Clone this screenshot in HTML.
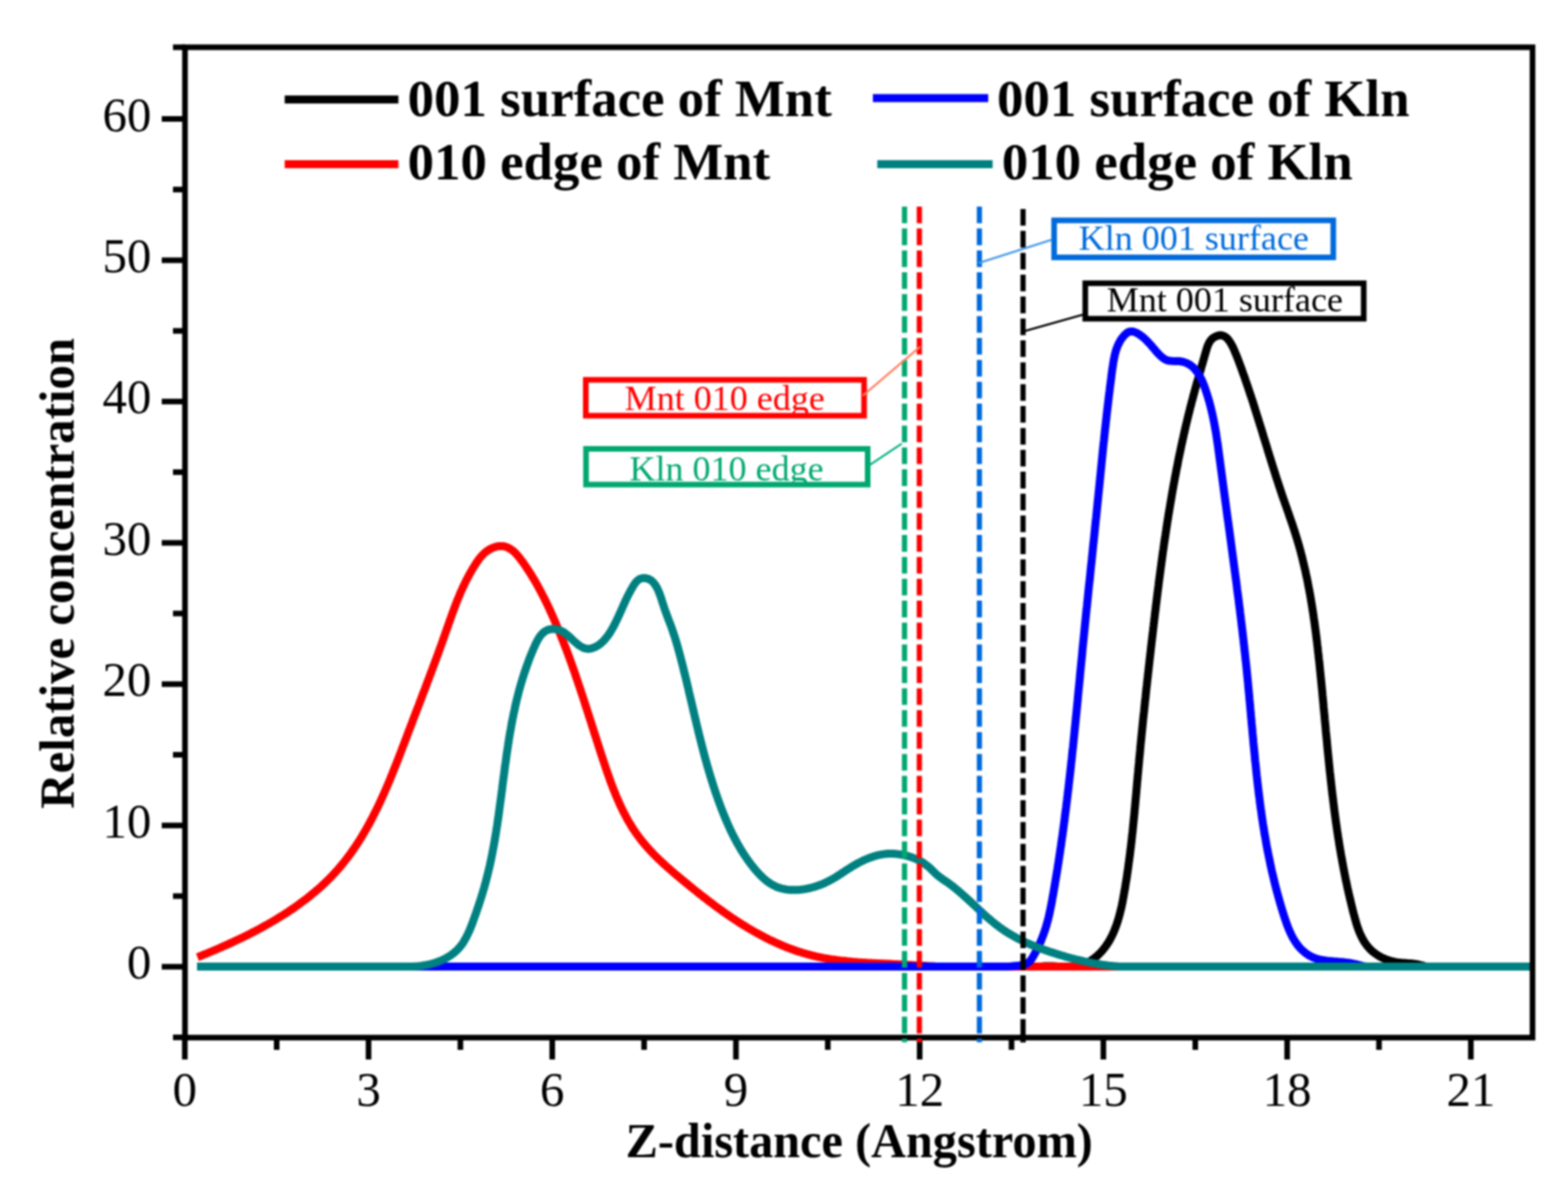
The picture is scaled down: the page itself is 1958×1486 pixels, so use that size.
<!DOCTYPE html>
<html><head><meta charset="utf-8"><title>Relative concentration vs Z-distance</title>
<style>html,body{margin:0;padding:0;background:#fff;overflow:hidden}svg{display:block;filter:blur(0.9px)}</style>
</head><body>
<svg width="1958" height="1486" viewBox="0 0 1958 1486">
<rect width="1958" height="1486" fill="#fff"/>
<g fill="none" stroke-width="10" stroke-linejoin="round" stroke-linecap="butt">
<path stroke="#000000" d="M246.0 1207.0 L1300.0 1207.0 1303.0 1206.6 1306.0 1206.4 1309.0 1206.4 1312.0 1206.4 1315.0 1206.6 1318.0 1206.8 1321.0 1207.0 1324.0 1207.0 1327.0 1207.0 1330.0 1207.0 1333.0 1207.0 1336.0 1207.0 1339.0 1207.0 1342.0 1207.0 1345.0 1207.0 1347.9 1206.4 1350.8 1205.4 1353.6 1204.3 1356.3 1203.1 1359.0 1201.7 1361.6 1200.1 1364.0 1198.4 1366.5 1196.6 1368.8 1194.7 1371.0 1192.7 1373.2 1190.6 1375.3 1188.4 1377.2 1186.2 1379.1 1183.8 1380.9 1181.4 1382.6 1178.9 1384.3 1176.4 1385.8 1173.8 1387.2 1171.2 1388.6 1168.5 1389.9 1165.7 1391.1 1163.0 1392.2 1160.2 1393.3 1157.4 1394.3 1154.6 1395.3 1151.7 1396.2 1148.8 1397.0 1146.0 1397.8 1143.1 1398.6 1140.1 1399.3 1137.2 1400.0 1134.3 1400.7 1131.3 1401.3 1128.4 1401.9 1125.5 1402.4 1122.5 1403.0 1119.5 1403.5 1116.6 1404.0 1113.6 1404.6 1110.6 1405.1 1107.7 1405.5 1104.7 1406.0 1101.7 1406.5 1098.8 1407.0 1095.8 1407.4 1092.8 1407.8 1089.8 1408.3 1086.9 1408.7 1083.9 1409.1 1080.9 1409.5 1077.9 1409.9 1074.9 1410.3 1071.9 1410.7 1069.0 1411.1 1066.0 1411.4 1063.0 1411.8 1060.0 1412.2 1057.0 1412.5 1054.0 1412.9 1051.0 1413.2 1048.0 1413.5 1045.1 1413.8 1042.1 1414.2 1039.1 1414.5 1036.1 1414.8 1033.1 1415.1 1030.1 1415.4 1027.1 1415.7 1024.1 1416.0 1021.1 1416.3 1018.1 1416.6 1015.1 1416.8 1012.1 1417.1 1009.1 1417.4 1006.1 1417.7 1003.1 1417.9 1000.1 1418.2 997.1 1418.5 994.1 1418.8 991.1 1419.0 988.1 1419.3 985.1 1419.6 982.1 1419.8 979.1 1420.1 976.1 1420.4 973.1 1420.6 970.1 1420.9 967.1 1421.2 964.2 1421.4 961.2 1421.7 958.2 1422.0 955.2 1422.3 952.2 1422.5 949.2 1422.8 946.2 1423.1 943.2 1423.4 940.2 1423.7 937.2 1423.9 934.2 1424.2 931.2 1424.5 928.2 1424.8 925.2 1425.1 922.2 1425.4 919.2 1425.7 916.2 1426.0 913.2 1426.3 910.2 1426.6 907.2 1426.9 904.2 1427.2 901.2 1427.5 898.2 1427.8 895.2 1428.1 892.3 1428.5 889.3 1428.8 886.3 1429.1 883.3 1429.4 880.3 1429.7 877.3 1430.0 874.3 1430.4 871.3 1430.7 868.3 1431.0 865.3 1431.3 862.3 1431.6 859.3 1432.0 856.3 1432.3 853.4 1432.6 850.4 1433.0 847.4 1433.3 844.4 1433.6 841.4 1434.0 838.4 1434.3 835.4 1434.6 832.4 1435.0 829.4 1435.3 826.4 1435.6 823.4 1436.0 820.4 1436.3 817.5 1436.7 814.5 1437.0 811.5 1437.3 808.5 1437.7 805.5 1438.0 802.5 1438.4 799.5 1438.7 796.5 1439.1 793.5 1439.4 790.5 1439.8 787.6 1440.1 784.6 1440.5 781.6 1440.8 778.6 1441.2 775.6 1441.5 772.6 1441.9 769.6 1442.2 766.6 1442.6 763.6 1443.0 760.7 1443.3 757.7 1443.7 754.7 1444.1 751.7 1444.4 748.7 1444.8 745.7 1445.2 742.7 1445.5 739.8 1445.9 736.8 1446.3 733.8 1446.7 730.8 1447.0 727.8 1447.4 724.8 1447.8 721.8 1448.2 718.9 1448.6 715.9 1449.0 712.9 1449.4 709.9 1449.8 706.9 1450.2 703.9 1450.6 701.0 1451.0 698.0 1451.4 695.0 1451.8 692.0 1452.2 689.0 1452.7 686.0 1453.1 683.1 1453.5 680.1 1453.9 677.1 1454.4 674.1 1454.8 671.2 1455.3 668.2 1455.7 665.2 1456.2 662.2 1456.6 659.2 1457.1 656.3 1457.5 653.3 1458.0 650.3 1458.5 647.4 1458.9 644.4 1459.4 641.4 1459.9 638.4 1460.4 635.5 1460.9 632.5 1461.4 629.5 1461.9 626.6 1462.4 623.6 1462.9 620.6 1463.4 617.7 1463.9 614.7 1464.4 611.7 1465.0 608.8 1465.5 605.8 1466.0 602.9 1466.6 599.9 1467.1 596.9 1467.7 594.0 1468.3 591.0 1468.8 588.1 1469.4 585.1 1470.0 582.2 1470.6 579.2 1471.1 576.2 1471.7 573.3 1472.3 570.3 1472.9 567.4 1473.6 564.5 1474.2 561.5 1474.8 558.6 1475.4 555.6 1476.1 552.7 1476.7 549.7 1477.4 546.8 1478.0 543.9 1478.7 540.9 1479.4 538.0 1480.0 535.1 1480.7 532.1 1481.4 529.2 1482.1 526.3 1482.8 523.3 1483.5 520.4 1484.2 517.5 1485.0 514.6 1485.7 511.7 1486.4 508.7 1487.2 505.8 1487.9 502.9 1488.7 500.0 1489.5 497.1 1490.2 494.2 1491.0 491.3 1491.8 488.4 1492.6 485.5 1493.4 482.6 1494.2 479.7 1495.0 476.8 1495.9 473.9 1496.7 471.0 1497.5 468.1 1498.3 465.2 1499.2 462.3 1500.0 459.4 1500.8 456.5 1501.7 453.6 1502.5 450.7 1503.3 447.8 1504.1 444.9 1505.0 442.0 1505.8 439.2 1506.6 436.3 1507.5 433.4 1508.6 430.6 1509.9 427.9 1511.5 425.3 1513.5 423.1 1515.9 421.3 1518.5 419.9 1521.4 418.9 1524.4 418.6 1527.3 419.2 1530.0 420.5 1532.3 422.4 1534.3 424.7 1536.0 427.2 1537.6 429.8 1539.0 432.4 1540.3 435.1 1541.5 437.9 1542.6 440.7 1543.8 443.4 1544.9 446.2 1546.0 449.1 1547.1 451.9 1548.1 454.7 1549.2 457.5 1550.2 460.3 1551.2 463.2 1552.2 466.0 1553.3 468.8 1554.3 471.7 1555.2 474.5 1556.2 477.4 1557.2 480.2 1558.2 483.0 1559.1 485.9 1560.1 488.8 1561.0 491.6 1562.0 494.5 1562.9 497.3 1563.9 500.2 1564.8 503.1 1565.7 505.9 1566.6 508.8 1567.5 511.7 1568.4 514.5 1569.3 517.4 1570.2 520.3 1571.1 523.1 1572.0 526.0 1572.9 528.9 1573.8 531.8 1574.7 534.6 1575.6 537.5 1576.5 540.4 1577.3 543.3 1578.2 546.2 1579.1 549.0 1580.0 551.9 1580.9 554.8 1581.8 557.7 1582.6 560.5 1583.5 563.4 1584.4 566.3 1585.3 569.2 1586.2 572.0 1587.1 574.9 1588.0 577.8 1588.9 580.7 1589.8 583.5 1590.7 586.4 1591.6 589.3 1592.5 592.1 1593.4 595.0 1594.3 597.9 1595.3 600.7 1596.2 603.6 1597.1 606.5 1598.1 609.3 1599.0 612.2 1600.0 615.0 1600.9 617.9 1601.9 620.7 1602.9 623.6 1603.9 626.4 1604.9 629.3 1605.9 632.1 1606.9 634.9 1607.9 637.8 1608.9 640.6 1609.8 643.5 1610.8 646.3 1611.8 649.1 1612.8 652.0 1613.8 654.8 1614.7 657.7 1615.7 660.6 1616.6 663.4 1617.5 666.3 1618.4 669.1 1619.3 672.0 1620.2 674.9 1621.0 677.8 1621.9 680.7 1622.7 683.6 1623.5 686.5 1624.3 689.4 1625.0 692.3 1625.8 695.2 1626.5 698.1 1627.2 701.1 1627.9 704.0 1628.6 706.9 1629.3 709.8 1630.0 712.8 1630.6 715.7 1631.2 718.7 1631.9 721.6 1632.5 724.6 1633.1 727.5 1633.6 730.5 1634.2 733.4 1634.8 736.4 1635.3 739.3 1635.9 742.3 1636.4 745.3 1636.9 748.2 1637.4 751.2 1637.9 754.2 1638.4 757.1 1638.8 760.1 1639.3 763.1 1639.8 766.1 1640.2 769.0 1640.6 772.0 1641.1 775.0 1641.5 778.0 1641.9 781.0 1642.3 783.9 1642.7 786.9 1643.1 789.9 1643.5 792.9 1643.8 795.9 1644.2 798.9 1644.6 801.9 1644.9 804.8 1645.3 807.8 1645.6 810.8 1645.9 813.8 1646.3 816.8 1646.6 819.8 1646.9 822.8 1647.3 825.8 1647.6 828.8 1647.9 831.8 1648.2 834.8 1648.5 837.8 1648.8 840.7 1649.1 843.7 1649.4 846.7 1649.7 849.7 1650.0 852.7 1650.3 855.7 1650.6 858.7 1650.9 861.7 1651.2 864.7 1651.4 867.7 1651.7 870.7 1652.0 873.7 1652.3 876.7 1652.6 879.7 1652.8 882.7 1653.1 885.7 1653.4 888.7 1653.7 891.7 1654.0 894.7 1654.2 897.7 1654.5 900.7 1654.8 903.7 1655.1 906.7 1655.4 909.7 1655.6 912.7 1655.9 915.7 1656.2 918.6 1656.5 921.6 1656.8 924.6 1657.1 927.6 1657.3 930.6 1657.6 933.6 1657.9 936.6 1658.2 939.6 1658.5 942.6 1658.8 945.6 1659.1 948.6 1659.4 951.6 1659.7 954.6 1660.0 957.6 1660.3 960.6 1660.6 963.6 1661.0 966.6 1661.3 969.6 1661.6 972.6 1661.9 975.5 1662.3 978.5 1662.6 981.5 1662.9 984.5 1663.3 987.5 1663.6 990.5 1664.0 993.5 1664.4 996.5 1664.7 999.5 1665.1 1002.4 1665.5 1005.4 1665.8 1008.4 1666.2 1011.4 1666.6 1014.4 1667.0 1017.4 1667.4 1020.4 1667.8 1023.3 1668.2 1026.3 1668.6 1029.3 1669.1 1032.3 1669.5 1035.3 1669.9 1038.2 1670.4 1041.2 1670.8 1044.2 1671.3 1047.2 1671.8 1050.1 1672.2 1053.1 1672.7 1056.1 1673.2 1059.0 1673.7 1062.0 1674.2 1065.0 1674.7 1067.9 1675.3 1070.9 1675.8 1073.9 1676.3 1076.8 1676.9 1079.8 1677.4 1082.8 1678.0 1085.7 1678.6 1088.7 1679.1 1091.6 1679.7 1094.6 1680.3 1097.5 1680.9 1100.5 1681.6 1103.4 1682.2 1106.4 1682.8 1109.3 1683.5 1112.2 1684.1 1115.2 1684.8 1118.1 1685.5 1121.0 1686.2 1124.0 1686.9 1126.9 1687.6 1129.8 1688.3 1132.7 1689.0 1135.7 1689.7 1138.6 1690.5 1141.5 1691.3 1144.4 1692.1 1147.3 1692.9 1150.2 1693.7 1153.1 1694.6 1156.0 1695.6 1158.8 1696.6 1161.6 1697.7 1164.4 1698.9 1167.2 1700.2 1169.9 1701.6 1172.6 1703.1 1175.2 1704.7 1177.7 1706.5 1180.2 1708.4 1182.5 1710.4 1184.8 1712.5 1186.9 1714.8 1188.8 1717.2 1190.7 1719.7 1192.4 1722.2 1194.0 1724.9 1195.4 1727.6 1196.7 1730.4 1197.9 1733.2 1198.9 1736.1 1199.8 1739.0 1200.5 1741.9 1201.1 1744.9 1201.6 1747.9 1202.0 1750.9 1202.3 1753.9 1202.5 1756.9 1202.8 1759.9 1203.0 1762.9 1203.3 1765.9 1203.6 1768.9 1204.0 1771.8 1204.6 1774.7 1205.3 1777.6 1206.1 1780.4 1207.0 1783.2 1207.0 1786.0 1207.0 1788.9 1207.0 1791.9 1207.0 1794.8 1207.0 1797.5 1207.0 1800.0 1207.0 L1913.0 1207.0"/>
<path stroke="#ff0000" d="M246.6 1195.3 249.4 1194.2 252.1 1193.1 254.9 1191.9 257.7 1190.8 260.5 1189.7 263.3 1188.5 266.0 1187.3 268.8 1186.2 271.6 1185.0 274.3 1183.8 277.1 1182.6 279.8 1181.3 282.6 1180.1 285.3 1178.9 288.1 1177.6 290.8 1176.4 293.5 1175.1 296.3 1173.8 299.0 1172.5 301.7 1171.2 304.4 1169.9 307.1 1168.6 309.8 1167.2 312.5 1165.9 315.1 1164.5 317.8 1163.1 320.5 1161.7 323.1 1160.3 325.8 1158.9 328.4 1157.4 331.0 1156.0 333.7 1154.5 336.3 1153.0 338.9 1151.5 341.5 1150.0 344.1 1148.5 346.6 1146.9 349.2 1145.3 351.8 1143.7 354.3 1142.1 356.8 1140.5 359.4 1138.9 361.9 1137.2 364.4 1135.5 366.8 1133.8 369.3 1132.1 371.8 1130.4 374.2 1128.6 376.6 1126.8 379.0 1125.0 381.4 1123.2 383.8 1121.4 386.2 1119.5 388.5 1117.6 390.8 1115.7 393.2 1113.8 395.4 1111.8 397.7 1109.9 400.0 1107.9 402.2 1105.8 404.4 1103.8 406.6 1101.7 408.7 1099.6 410.9 1097.5 413.0 1095.4 415.1 1093.2 417.1 1091.0 419.2 1088.8 421.2 1086.5 423.2 1084.3 425.1 1082.0 427.0 1079.7 428.9 1077.4 430.8 1075.0 432.7 1072.6 434.5 1070.2 436.3 1067.8 438.1 1065.4 439.8 1062.9 441.5 1060.5 443.2 1058.0 444.9 1055.5 446.5 1053.0 448.2 1050.4 449.8 1047.9 451.4 1045.3 452.9 1042.8 454.4 1040.2 456.0 1037.6 457.5 1035.0 458.9 1032.4 460.4 1029.7 461.8 1027.1 463.2 1024.4 464.7 1021.8 466.0 1019.1 467.4 1016.4 468.7 1013.7 470.1 1011.0 471.4 1008.3 472.7 1005.6 474.0 1002.9 475.3 1000.2 476.5 997.4 477.8 994.7 479.0 991.9 480.2 989.2 481.4 986.4 482.6 983.7 483.8 980.9 485.0 978.1 486.1 975.4 487.3 972.6 488.4 969.8 489.6 967.0 490.7 964.2 491.8 961.4 492.9 958.6 494.0 955.9 495.1 953.1 496.2 950.3 497.3 947.4 498.4 944.6 499.5 941.8 500.6 939.0 501.7 936.2 502.7 933.4 503.8 930.6 504.9 927.8 505.9 925.0 507.0 922.2 508.1 919.3 509.1 916.5 510.2 913.7 511.3 910.9 512.3 908.1 513.4 905.3 514.5 902.5 515.5 899.7 516.6 896.8 517.7 894.0 518.8 891.2 519.8 888.4 520.9 885.6 522.0 882.8 523.1 880.0 524.1 877.2 525.2 874.4 526.3 871.6 527.3 868.7 528.4 865.9 529.5 863.1 530.6 860.3 531.6 857.5 532.7 854.7 533.7 851.9 534.8 849.1 535.9 846.2 536.9 843.4 538.0 840.6 539.0 837.8 540.1 835.0 541.1 832.1 542.2 829.3 543.2 826.5 544.3 823.7 545.3 820.9 546.4 818.0 547.4 815.2 548.4 812.4 549.4 809.6 550.5 806.7 551.5 803.9 552.5 801.1 553.5 798.2 554.5 795.4 555.5 792.6 556.5 789.7 557.5 786.9 558.5 784.0 559.5 781.2 560.5 778.4 561.5 775.5 562.5 772.7 563.5 769.9 564.5 767.0 565.6 764.2 566.6 761.4 567.7 758.6 568.7 755.8 569.8 752.9 570.9 750.1 572.0 747.4 573.2 744.6 574.3 741.8 575.5 739.0 576.8 736.3 578.0 733.5 579.3 730.8 580.6 728.1 581.9 725.4 583.3 722.7 584.7 720.1 586.1 717.4 587.6 714.8 589.1 712.2 590.6 709.6 592.2 707.0 593.8 704.5 595.4 702.0 597.2 699.5 599.0 697.1 600.9 694.8 602.9 692.6 605.1 690.5 607.4 688.6 609.9 686.9 612.5 685.4 615.2 684.1 618.0 683.1 620.9 682.3 623.9 681.9 626.9 681.9 629.9 682.3 632.8 683.2 635.5 684.4 638.1 686.0 640.5 687.8 642.7 689.8 644.8 691.9 646.8 694.2 648.7 696.5 650.5 698.9 652.3 701.3 654.1 703.8 655.8 706.3 657.5 708.8 659.1 711.3 660.8 713.8 662.4 716.3 664.0 718.9 665.5 721.4 667.1 724.0 668.6 726.6 670.1 729.2 671.6 731.9 673.0 734.5 674.4 737.1 675.9 739.8 677.2 742.5 678.6 745.1 680.0 747.8 681.3 750.5 682.6 753.2 683.9 755.9 685.2 758.7 686.5 761.4 687.7 764.1 689.0 766.9 690.2 769.6 691.4 772.4 692.6 775.1 693.8 777.9 695.0 780.7 696.1 783.4 697.3 786.2 698.4 789.0 699.6 791.8 700.7 794.6 701.8 797.4 702.9 800.2 704.0 803.0 705.1 805.8 706.2 808.6 707.3 811.4 708.3 814.2 709.4 817.0 710.4 819.8 711.4 822.7 712.5 825.5 713.5 828.3 714.5 831.2 715.5 834.0 716.5 836.8 717.5 839.7 718.5 842.5 719.4 845.4 720.4 848.2 721.4 851.1 722.3 853.9 723.3 856.8 724.3 859.6 725.2 862.5 726.1 865.3 727.1 868.2 728.0 871.0 729.0 873.9 729.9 876.8 730.8 879.6 731.7 882.5 732.7 885.4 733.6 888.2 734.5 891.1 735.4 893.9 736.3 896.8 737.3 899.7 738.2 902.5 739.1 905.4 740.0 908.3 740.9 911.1 741.8 914.0 742.7 916.9 743.7 919.7 744.6 922.6 745.5 925.5 746.4 928.3 747.3 931.2 748.3 934.1 749.2 936.9 750.1 939.8 751.0 942.6 752.0 945.5 752.9 948.4 753.9 951.2 754.8 954.1 755.8 956.9 756.7 959.8 757.7 962.6 758.7 965.5 759.7 968.3 760.7 971.1 761.7 974.0 762.7 976.8 763.8 979.6 764.8 982.4 765.9 985.2 767.0 988.0 768.2 990.8 769.3 993.6 770.5 996.4 771.7 999.1 772.9 1001.9 774.1 1004.6 775.4 1007.4 776.7 1010.1 778.0 1012.8 779.4 1015.5 780.8 1018.1 782.2 1020.8 783.6 1023.4 785.1 1026.0 786.7 1028.6 788.2 1031.2 789.8 1033.7 791.4 1036.3 793.1 1038.8 794.8 1041.2 796.6 1043.7 798.4 1046.1 800.2 1048.5 802.1 1050.8 804.0 1053.1 806.0 1055.4 807.9 1057.7 809.9 1059.9 812.0 1062.2 814.0 1064.3 816.1 1066.5 818.3 1068.7 820.4 1070.8 822.5 1072.9 824.7 1074.9 826.9 1077.0 829.1 1079.0 831.4 1081.1 833.6 1083.1 835.9 1085.1 838.1 1087.0 840.4 1089.0 842.7 1091.0 845.0 1092.9 847.3 1094.8 849.6 1096.8 851.9 1098.7 854.2 1100.6 856.6 1102.5 858.9 1104.4 861.2 1106.3 863.5 1108.2 865.9 1110.1 868.2 1112.0 870.6 1113.9 872.9 1115.7 875.3 1117.6 877.7 1119.5 880.0 1121.3 882.4 1123.1 884.8 1125.0 887.2 1126.8 889.6 1128.6 892.0 1130.4 894.4 1132.2 896.9 1134.0 899.3 1135.7 901.7 1137.5 904.2 1139.2 906.7 1141.0 909.1 1142.7 911.6 1144.4 914.1 1146.1 916.6 1147.7 919.1 1149.4 921.6 1151.0 924.2 1152.7 926.7 1154.3 929.3 1155.8 931.8 1157.4 934.4 1159.0 937.0 1160.5 939.6 1162.0 942.2 1163.5 944.8 1165.0 947.5 1166.4 950.1 1167.9 952.8 1169.3 955.4 1170.7 958.1 1172.0 960.8 1173.4 963.5 1174.7 966.3 1175.9 969.0 1177.2 971.7 1178.4 974.5 1179.6 977.3 1180.8 980.0 1182.0 982.8 1183.1 985.6 1184.2 988.5 1185.2 991.3 1186.2 994.1 1187.2 997.0 1188.2 999.8 1189.1 1002.7 1190.0 1005.6 1190.8 1008.5 1191.7 1011.4 1192.4 1014.3 1193.2 1017.2 1193.9 1020.2 1194.6 1023.1 1195.2 1026.1 1195.8 1029.0 1196.4 1032.0 1196.9 1034.9 1197.4 1037.9 1197.9 1040.9 1198.3 1043.9 1198.7 1046.9 1199.1 1049.8 1199.5 1052.8 1199.8 1055.8 1200.1 1058.8 1200.4 1061.8 1200.7 1064.8 1201.0 1067.8 1201.2 1070.8 1201.5 1073.8 1201.7 1076.8 1201.9 1079.8 1202.1 1082.8 1202.3 1085.8 1202.4 1088.8 1202.6 1091.8 1202.7 1094.8 1202.9 1097.8 1203.0 1100.8 1203.2 1103.8 1203.3 1106.8 1203.5 1109.9 1203.6 1112.9 1203.7 1115.9 1203.9 1118.9 1204.0 1121.9 1204.2 1124.9 1204.3 1127.9 1204.5 1130.9 1204.7 1133.9 1204.9 1136.9 1205.0 1139.9 1205.2 1142.9 1205.4 1145.9 1205.6 1148.9 1205.8 1151.9 1206.0 1154.9 1206.1 1157.9 1206.3 1160.9 1206.5 1163.9 1206.6 1166.9 1206.7 1169.9 1206.9 1172.9 1207.0 1175.9 1207.0 1179.0 1207.0 1182.0 1207.0 1185.0 1207.0 1188.0 1207.0 1191.0 1207.0 1194.0 1207.0 1197.0 1207.0 1200.0 1207.0 L1400.0 1207.0"/>
<path stroke="#0000ff" d="M246.0 1207.0 L1210.0 1207.0 1213.0 1206.9 1216.0 1206.9 1219.0 1206.9 1222.0 1206.9 1225.0 1206.9 1228.0 1207.0 1231.1 1207.0 1234.1 1207.0 1237.1 1207.0 1240.1 1207.0 1243.1 1207.0 1246.1 1207.0 1249.1 1207.0 1252.1 1207.0 1255.1 1207.0 1258.1 1206.9 1261.1 1206.8 1264.1 1206.6 1267.1 1206.3 1270.1 1206.1 1273.1 1205.7 1276.1 1205.3 1279.0 1204.6 1281.8 1203.5 1284.3 1201.9 1286.4 1199.8 1288.3 1197.4 1289.9 1194.8 1291.4 1192.2 1292.8 1189.6 1294.2 1186.9 1295.6 1184.2 1296.9 1181.5 1298.1 1178.8 1299.4 1176.1 1300.5 1173.3 1301.6 1170.5 1302.7 1167.7 1303.7 1164.9 1304.7 1162.0 1305.6 1159.2 1306.5 1156.3 1307.3 1153.4 1308.1 1150.5 1308.9 1147.6 1309.6 1144.6 1310.3 1141.7 1310.9 1138.8 1311.5 1135.8 1312.1 1132.9 1312.7 1129.9 1313.3 1127.0 1313.8 1124.0 1314.3 1121.1 1314.9 1118.1 1315.4 1115.1 1315.9 1112.2 1316.4 1109.2 1316.9 1106.3 1317.4 1103.3 1317.9 1100.3 1318.4 1097.4 1318.9 1094.4 1319.4 1091.4 1319.9 1088.4 1320.4 1085.5 1320.8 1082.5 1321.3 1079.5 1321.8 1076.6 1322.2 1073.6 1322.7 1070.6 1323.1 1067.6 1323.6 1064.7 1324.0 1061.7 1324.4 1058.7 1324.9 1055.7 1325.3 1052.8 1325.7 1049.8 1326.1 1046.8 1326.6 1043.8 1327.0 1040.9 1327.4 1037.9 1327.8 1034.9 1328.2 1031.9 1328.6 1028.9 1329.0 1026.0 1329.4 1023.0 1329.7 1020.0 1330.1 1017.0 1330.5 1014.0 1330.9 1011.0 1331.3 1008.1 1331.6 1005.1 1332.0 1002.1 1332.4 999.1 1332.7 996.1 1333.1 993.1 1333.4 990.1 1333.8 987.2 1334.2 984.2 1334.5 981.2 1334.8 978.2 1335.2 975.2 1335.5 972.2 1335.9 969.2 1336.2 966.2 1336.5 963.2 1336.9 960.3 1337.2 957.3 1337.5 954.3 1337.8 951.3 1338.2 948.3 1338.5 945.3 1338.8 942.3 1339.1 939.3 1339.4 936.3 1339.8 933.3 1340.1 930.4 1340.4 927.4 1340.7 924.4 1341.0 921.4 1341.3 918.4 1341.6 915.4 1341.9 912.4 1342.2 909.4 1342.5 906.4 1342.8 903.4 1343.1 900.4 1343.4 897.4 1343.7 894.4 1344.0 891.5 1344.3 888.5 1344.6 885.5 1344.9 882.5 1345.2 879.5 1345.5 876.5 1345.8 873.5 1346.0 870.5 1346.3 867.5 1346.6 864.5 1346.9 861.5 1347.2 858.5 1347.5 855.5 1347.8 852.5 1348.1 849.5 1348.4 846.6 1348.6 843.6 1348.9 840.6 1349.2 837.6 1349.5 834.6 1349.8 831.6 1350.1 828.6 1350.4 825.6 1350.7 822.6 1351.0 819.6 1351.3 816.6 1351.5 813.6 1351.8 810.6 1352.1 807.6 1352.4 804.6 1352.7 801.7 1353.0 798.7 1353.3 795.7 1353.6 792.7 1353.9 789.7 1354.2 786.7 1354.5 783.7 1354.8 780.7 1355.1 777.7 1355.4 774.7 1355.7 771.7 1356.0 768.7 1356.3 765.7 1356.6 762.8 1356.9 759.8 1357.3 756.8 1357.6 753.8 1357.9 750.8 1358.2 747.8 1358.5 744.8 1358.8 741.8 1359.1 738.8 1359.4 735.8 1359.7 732.8 1360.0 729.8 1360.4 726.9 1360.7 723.9 1361.0 720.9 1361.3 717.9 1361.6 714.9 1361.9 711.9 1362.2 708.9 1362.5 705.9 1362.9 702.9 1363.2 699.9 1363.5 696.9 1363.8 693.9 1364.1 691.0 1364.4 688.0 1364.7 685.0 1365.0 682.0 1365.3 679.0 1365.7 676.0 1366.0 673.0 1366.3 670.0 1366.6 667.0 1366.9 664.0 1367.2 661.0 1367.5 658.1 1367.8 655.1 1368.1 652.1 1368.4 649.1 1368.8 646.1 1369.1 643.1 1369.4 640.1 1369.7 637.1 1370.0 634.1 1370.3 631.1 1370.6 628.1 1370.9 625.1 1371.2 622.2 1371.5 619.2 1371.8 616.2 1372.1 613.2 1372.4 610.2 1372.7 607.2 1373.0 604.2 1373.3 601.2 1373.6 598.2 1373.9 595.2 1374.2 592.2 1374.5 589.2 1374.8 586.2 1375.1 583.2 1375.4 580.3 1375.7 577.3 1376.0 574.3 1376.3 571.3 1376.6 568.3 1376.9 565.3 1377.2 562.3 1377.5 559.3 1377.8 556.3 1378.1 553.3 1378.5 550.3 1378.8 547.3 1379.1 544.4 1379.4 541.4 1379.7 538.4 1380.0 535.4 1380.4 532.4 1380.7 529.4 1381.0 526.4 1381.4 523.4 1381.7 520.4 1382.0 517.4 1382.4 514.5 1382.7 511.5 1383.1 508.5 1383.4 505.5 1383.8 502.5 1384.1 499.5 1384.5 496.5 1384.8 493.6 1385.2 490.6 1385.6 487.6 1385.9 484.6 1386.3 481.6 1386.7 478.6 1387.1 475.6 1387.5 472.7 1387.8 469.7 1388.2 466.7 1388.6 463.7 1389.0 460.7 1389.5 457.8 1389.9 454.8 1390.4 451.8 1390.9 448.9 1391.5 445.9 1392.1 443.0 1392.9 440.1 1393.7 437.2 1394.7 434.3 1395.8 431.5 1397.1 428.8 1398.5 426.2 1400.1 423.6 1401.9 421.2 1403.8 418.9 1406.0 416.8 1408.4 415.0 1411.2 413.9 1414.2 413.9 1417.1 414.7 1419.8 415.9 1422.4 417.5 1424.8 419.2 1427.2 421.0 1429.5 423.0 1431.7 425.1 1433.7 427.2 1435.8 429.5 1437.8 431.7 1439.7 434.0 1441.7 436.3 1443.6 438.6 1445.6 440.8 1447.7 443.0 1449.9 445.1 1452.2 447.0 1454.7 448.7 1457.4 449.9 1460.4 450.5 1463.4 450.8 1466.4 450.9 1469.4 451.0 1472.4 451.1 1475.4 451.4 1478.3 452.1 1481.1 453.1 1483.8 454.4 1486.4 455.9 1488.8 457.8 1491.0 459.8 1493.0 462.1 1494.8 464.4 1496.5 466.9 1498.0 469.5 1499.5 472.2 1500.8 474.9 1502.0 477.6 1503.1 480.4 1504.2 483.2 1505.2 486.1 1506.1 488.9 1507.1 491.8 1508.0 494.7 1508.8 497.5 1509.7 500.4 1510.5 503.3 1511.2 506.2 1512.0 509.1 1512.7 512.1 1513.4 515.0 1514.1 517.9 1514.7 520.9 1515.3 523.8 1515.9 526.8 1516.5 529.7 1517.0 532.7 1517.5 535.6 1518.1 538.6 1518.6 541.6 1519.0 544.5 1519.5 547.5 1519.9 550.5 1520.4 553.5 1520.8 556.4 1521.2 559.4 1521.6 562.4 1522.0 565.4 1522.4 568.3 1522.8 571.3 1523.2 574.3 1523.6 577.3 1524.0 580.3 1524.4 583.3 1524.8 586.2 1525.2 589.2 1525.6 592.2 1526.0 595.2 1526.4 598.2 1526.8 601.1 1527.2 604.1 1527.6 607.1 1528.0 610.1 1528.4 613.1 1528.8 616.0 1529.2 619.0 1529.6 622.0 1530.0 625.0 1530.4 628.0 1530.8 630.9 1531.2 633.9 1531.6 636.9 1532.0 639.9 1532.4 642.9 1532.8 645.8 1533.2 648.8 1533.7 651.8 1534.1 654.8 1534.5 657.8 1534.9 660.7 1535.3 663.7 1535.7 666.7 1536.1 669.7 1536.5 672.7 1536.9 675.6 1537.3 678.6 1537.7 681.6 1538.1 684.6 1538.5 687.6 1538.9 690.5 1539.3 693.5 1539.7 696.5 1540.1 699.5 1540.5 702.5 1540.9 705.5 1541.3 708.4 1541.7 711.4 1542.1 714.4 1542.5 717.4 1542.9 720.4 1543.3 723.3 1543.7 726.3 1544.1 729.3 1544.5 732.3 1544.8 735.3 1545.2 738.3 1545.6 741.2 1546.0 744.2 1546.4 747.2 1546.8 750.2 1547.1 753.2 1547.5 756.2 1547.9 759.1 1548.3 762.1 1548.6 765.1 1549.0 768.1 1549.4 771.1 1549.7 774.1 1550.1 777.0 1550.4 780.0 1550.8 783.0 1551.2 786.0 1551.5 789.0 1551.9 792.0 1552.2 795.0 1552.6 798.0 1552.9 800.9 1553.2 803.9 1553.6 806.9 1553.9 809.9 1554.2 812.9 1554.6 815.9 1554.9 818.9 1555.2 821.9 1555.5 824.9 1555.9 827.9 1556.2 830.8 1556.5 833.8 1556.8 836.8 1557.1 839.8 1557.4 842.8 1557.7 845.8 1558.0 848.8 1558.3 851.8 1558.6 854.8 1558.8 857.8 1559.1 860.8 1559.4 863.8 1559.7 866.8 1560.0 869.8 1560.2 872.7 1560.5 875.7 1560.8 878.7 1561.1 881.7 1561.3 884.7 1561.6 887.7 1561.9 890.7 1562.1 893.7 1562.4 896.7 1562.7 899.7 1562.9 902.7 1563.2 905.7 1563.5 908.7 1563.8 911.7 1564.0 914.7 1564.3 917.7 1564.6 920.7 1564.9 923.7 1565.1 926.7 1565.4 929.7 1565.7 932.7 1566.0 935.6 1566.3 938.6 1566.6 941.6 1566.9 944.6 1567.1 947.6 1567.4 950.6 1567.8 953.6 1568.1 956.6 1568.4 959.6 1568.7 962.6 1569.0 965.6 1569.3 968.6 1569.7 971.5 1570.0 974.5 1570.3 977.5 1570.7 980.5 1571.0 983.5 1571.4 986.5 1571.7 989.5 1572.1 992.5 1572.5 995.4 1572.9 998.4 1573.2 1001.4 1573.6 1004.4 1574.0 1007.4 1574.4 1010.3 1574.9 1013.3 1575.3 1016.3 1575.7 1019.3 1576.1 1022.3 1576.6 1025.2 1577.0 1028.2 1577.5 1031.2 1578.0 1034.1 1578.5 1037.1 1578.9 1040.1 1579.4 1043.1 1580.0 1046.0 1580.5 1049.0 1581.0 1051.9 1581.5 1054.9 1582.1 1057.9 1582.6 1060.8 1583.2 1063.8 1583.8 1066.7 1584.4 1069.7 1585.0 1072.6 1585.6 1075.6 1586.2 1078.5 1586.8 1081.4 1587.5 1084.4 1588.1 1087.3 1588.8 1090.2 1589.5 1093.2 1590.2 1096.1 1590.9 1099.0 1591.6 1101.9 1592.3 1104.9 1593.1 1107.8 1593.8 1110.7 1594.6 1113.6 1595.4 1116.5 1596.2 1119.4 1597.0 1122.3 1597.8 1125.2 1598.6 1128.1 1599.5 1131.0 1600.3 1133.9 1601.2 1136.7 1602.1 1139.6 1603.0 1142.5 1603.9 1145.3 1604.9 1148.2 1605.8 1151.0 1606.9 1153.9 1607.9 1156.7 1609.0 1159.5 1610.2 1162.2 1611.4 1165.0 1612.7 1167.7 1614.1 1170.4 1615.6 1173.0 1617.2 1175.6 1618.8 1178.1 1620.6 1180.5 1622.5 1182.8 1624.5 1185.0 1626.7 1187.1 1629.0 1189.1 1631.4 1190.9 1633.9 1192.6 1636.5 1194.1 1639.2 1195.4 1642.0 1196.5 1644.8 1197.4 1647.7 1198.2 1650.7 1198.8 1653.7 1199.3 1656.6 1199.7 1659.6 1200.1 1662.6 1200.3 1665.6 1200.6 1668.6 1200.8 1671.6 1201.1 1674.6 1201.3 1677.6 1201.6 1680.6 1201.9 1683.6 1202.2 1686.6 1202.7 1689.5 1203.3 1692.4 1203.9 1695.4 1204.7 1698.3 1205.4 1701.2 1206.2 1704.1 1206.8 1707.1 1207.0 1710.1 1207.0 1713.0 1207.0 1716.1 1207.0 1719.1 1207.0 1722.0 1207.0 1725.0 1207.0 L1913.0 1207.0"/>
<path stroke="#008080" d="M246.0 1207.0 L480.0 1207.0 483.0 1206.9 486.0 1206.9 489.0 1206.9 492.0 1206.9 495.0 1207.0 498.0 1207.0 501.0 1207.0 504.0 1207.0 507.1 1207.0 510.1 1207.0 513.1 1207.0 516.1 1206.9 519.1 1206.7 522.1 1206.5 525.1 1206.2 528.0 1205.8 531.0 1205.3 534.0 1204.7 536.9 1204.1 539.8 1203.3 542.7 1202.5 545.5 1201.5 548.4 1200.5 551.1 1199.3 553.9 1198.0 556.6 1196.7 559.2 1195.2 561.7 1193.6 564.2 1191.9 566.6 1190.1 568.9 1188.2 571.1 1186.1 573.1 1183.9 575.1 1181.6 576.9 1179.2 578.6 1176.7 580.1 1174.1 581.6 1171.5 583.0 1168.9 584.3 1166.2 585.6 1163.4 586.8 1160.7 587.9 1157.9 589.0 1155.1 590.1 1152.3 591.1 1149.4 592.1 1146.6 593.1 1143.8 594.2 1140.9 595.1 1138.1 596.1 1135.3 597.1 1132.4 598.0 1129.6 599.0 1126.7 599.9 1123.8 600.8 1121.0 601.7 1118.1 602.6 1115.2 603.4 1112.3 604.3 1109.5 605.1 1106.6 605.9 1103.7 606.7 1100.8 607.4 1097.9 608.2 1094.9 608.9 1092.0 609.6 1089.1 610.3 1086.2 611.0 1083.3 611.7 1080.3 612.3 1077.4 613.0 1074.4 613.6 1071.5 614.2 1068.6 614.8 1065.6 615.3 1062.6 615.9 1059.7 616.4 1056.7 617.0 1053.8 617.5 1050.8 618.0 1047.9 618.5 1044.9 619.0 1041.9 619.5 1039.0 619.9 1036.0 620.4 1033.0 620.9 1030.0 621.3 1027.1 621.7 1024.1 622.2 1021.1 622.6 1018.1 623.0 1015.2 623.4 1012.2 623.8 1009.2 624.2 1006.2 624.6 1003.2 625.0 1000.3 625.4 997.3 625.8 994.3 626.2 991.3 626.6 988.3 627.0 985.3 627.3 982.4 627.7 979.4 628.1 976.4 628.5 973.4 628.9 970.4 629.3 967.5 629.7 964.5 630.1 961.5 630.4 958.5 630.8 955.5 631.3 952.5 631.7 949.6 632.1 946.6 632.5 943.6 632.9 940.6 633.4 937.7 633.8 934.7 634.3 931.7 634.7 928.7 635.2 925.8 635.6 922.8 636.1 919.8 636.6 916.9 637.1 913.9 637.7 910.9 638.2 908.0 638.7 905.0 639.3 902.1 639.8 899.1 640.4 896.2 641.0 893.2 641.6 890.3 642.3 887.3 642.9 884.4 643.5 881.5 644.2 878.5 644.9 875.6 645.6 872.7 646.3 869.8 647.1 866.8 647.8 863.9 648.6 861.0 649.4 858.1 650.2 855.2 651.1 852.3 651.9 849.5 652.8 846.6 653.7 843.7 654.6 840.9 655.6 838.0 656.6 835.2 657.5 832.3 658.6 829.5 659.6 826.7 660.6 823.8 661.7 821.0 662.8 818.2 664.0 815.5 665.1 812.7 666.3 809.9 667.5 807.2 668.8 804.4 670.1 801.7 671.5 799.1 673.0 796.5 674.7 794.0 676.7 791.7 678.8 789.6 681.3 787.9 684.0 786.6 686.9 785.7 689.9 785.5 692.9 785.6 695.8 786.1 698.7 787.0 701.5 788.2 704.1 789.7 706.5 791.4 708.9 793.3 711.1 795.3 713.3 797.3 715.5 799.4 717.8 801.4 720.0 803.4 722.4 805.3 724.8 807.0 727.5 808.5 730.2 809.6 733.2 810.2 736.2 810.2 739.1 809.6 742.0 808.6 744.7 807.3 747.2 805.8 749.6 804.0 751.9 802.0 754.0 799.9 756.0 797.6 757.9 795.3 759.7 792.9 761.4 790.4 763.0 787.8 764.5 785.2 766.0 782.6 767.4 779.9 768.7 777.3 770.0 774.6 771.3 771.8 772.6 769.1 773.8 766.4 775.1 763.6 776.3 760.9 777.5 758.1 778.7 755.4 780.0 752.6 781.2 749.9 782.5 747.2 783.8 744.5 785.2 741.8 786.6 739.1 788.0 736.5 789.5 733.9 791.0 731.3 792.7 728.8 794.6 726.4 796.8 724.4 799.3 722.8 802.2 722.0 805.2 721.8 808.1 722.4 810.9 723.5 813.5 725.1 815.7 727.1 817.6 729.5 819.2 732.0 820.7 734.6 822.0 737.3 823.1 740.1 824.2 742.9 825.2 745.7 826.1 748.6 827.0 751.5 827.9 754.3 828.9 757.2 829.8 760.1 830.8 762.9 831.8 765.7 832.9 768.5 833.9 771.3 835.0 774.2 836.1 777.0 837.2 779.8 838.2 782.6 839.2 785.4 840.2 788.3 841.1 791.1 842.1 794.0 843.0 796.8 843.9 799.7 844.7 802.6 845.6 805.5 846.4 808.4 847.2 811.3 848.0 814.2 848.8 817.1 849.6 820.0 850.3 822.9 851.1 825.8 851.8 828.7 852.6 831.6 853.3 834.5 854.0 837.5 854.7 840.4 855.5 843.3 856.2 846.2 856.9 849.2 857.6 852.1 858.3 855.0 859.0 857.9 859.7 860.9 860.3 863.8 861.0 866.7 861.7 869.6 862.4 872.6 863.1 875.5 863.8 878.4 864.5 881.3 865.2 884.3 865.8 887.2 866.5 890.1 867.2 893.1 867.9 896.0 868.6 898.9 869.3 901.8 870.0 904.8 870.7 907.7 871.4 910.6 872.1 913.5 872.8 916.5 873.5 919.4 874.3 922.3 875.0 925.2 875.7 928.1 876.5 931.0 877.2 933.9 878.0 936.9 878.8 939.8 879.5 942.7 880.3 945.6 881.1 948.5 881.9 951.4 882.7 954.3 883.5 957.2 884.4 960.1 885.2 962.9 886.1 965.8 886.9 968.7 887.8 971.6 888.7 974.5 889.6 977.3 890.5 980.2 891.4 983.0 892.4 985.9 893.3 988.8 894.3 991.6 895.3 994.4 896.3 997.3 897.3 1000.1 898.3 1002.9 899.4 1005.8 900.4 1008.6 901.5 1011.4 902.6 1014.2 903.7 1017.0 904.9 1019.8 906.0 1022.5 907.2 1025.3 908.4 1028.1 909.6 1030.8 910.8 1033.5 912.1 1036.3 913.4 1039.0 914.7 1041.7 916.1 1044.4 917.5 1047.1 918.9 1049.7 920.3 1052.4 921.8 1055.0 923.3 1057.6 924.8 1060.2 926.4 1062.7 928.0 1065.3 929.6 1067.8 931.3 1070.3 933.0 1072.8 934.7 1075.2 936.5 1077.7 938.3 1080.0 940.2 1082.4 942.1 1084.7 944.0 1087.0 946.0 1089.3 948.1 1091.5 950.2 1093.6 952.3 1095.7 954.6 1097.7 956.9 1099.7 959.3 1101.5 961.8 1103.2 964.3 1104.7 967.0 1106.1 969.7 1107.4 972.6 1108.4 975.4 1109.3 978.4 1110.0 981.3 1110.6 984.3 1111.0 987.3 1111.2 990.3 1111.3 993.3 1111.3 996.3 1111.2 999.3 1111.0 1002.3 1110.6 1005.3 1110.2 1008.2 1109.6 1011.2 1109.0 1014.1 1108.2 1017.0 1107.4 1019.8 1106.5 1022.7 1105.5 1025.5 1104.5 1028.3 1103.3 1031.0 1102.1 1033.7 1100.8 1036.4 1099.4 1039.0 1098.0 1041.6 1096.5 1044.2 1094.9 1046.7 1093.3 1049.3 1091.7 1051.8 1090.0 1054.3 1088.4 1056.8 1086.7 1059.3 1085.1 1061.9 1083.5 1064.4 1081.9 1067.0 1080.4 1069.6 1078.9 1072.3 1077.4 1074.9 1076.1 1077.6 1074.7 1080.4 1073.5 1083.1 1072.3 1085.9 1071.2 1088.8 1070.2 1091.6 1069.2 1094.5 1068.4 1097.4 1067.7 1100.4 1067.1 1103.4 1066.6 1106.3 1066.3 1109.3 1066.1 1112.3 1066.0 1115.4 1066.1 1118.4 1066.3 1121.3 1066.6 1124.3 1067.0 1127.3 1067.5 1130.2 1068.2 1133.1 1068.9 1136.0 1069.8 1138.9 1070.7 1141.7 1071.8 1144.4 1073.0 1147.2 1074.3 1149.8 1075.7 1152.4 1077.2 1154.9 1078.9 1157.3 1080.7 1159.6 1082.6 1161.9 1084.6 1164.0 1086.7 1166.2 1088.8 1168.3 1090.9 1170.6 1092.9 1172.9 1094.8 1175.4 1096.6 1177.8 1098.3 1180.3 1100.0 1182.8 1101.7 1185.2 1103.4 1187.7 1105.2 1190.0 1107.0 1192.4 1108.9 1194.7 1110.8 1197.0 1112.7 1199.3 1114.7 1201.6 1116.7 1203.8 1118.7 1206.1 1120.7 1208.3 1122.7 1210.5 1124.8 1212.7 1126.8 1214.9 1128.9 1217.1 1130.9 1219.3 1133.0 1221.5 1135.0 1223.7 1137.1 1225.9 1139.1 1228.1 1141.2 1230.3 1143.2 1232.6 1145.2 1234.8 1147.1 1237.1 1149.1 1239.4 1151.0 1241.8 1152.9 1244.1 1154.8 1246.5 1156.6 1248.9 1158.4 1251.4 1160.1 1253.9 1161.8 1256.4 1163.5 1258.9 1165.1 1261.5 1166.6 1264.1 1168.2 1266.7 1169.6 1269.4 1171.1 1272.0 1172.5 1274.7 1173.8 1277.4 1175.1 1280.1 1176.4 1282.9 1177.7 1285.6 1178.9 1288.4 1180.1 1291.2 1181.2 1294.0 1182.3 1296.8 1183.4 1299.6 1184.5 1302.4 1185.5 1305.2 1186.5 1308.1 1187.5 1310.9 1188.5 1313.8 1189.4 1316.6 1190.3 1319.5 1191.2 1322.4 1192.1 1325.3 1193.0 1328.2 1193.8 1331.0 1194.7 1333.9 1195.5 1336.8 1196.3 1339.7 1197.0 1342.6 1197.8 1345.6 1198.5 1348.5 1199.2 1351.4 1199.9 1354.3 1200.6 1357.3 1201.2 1360.2 1201.8 1363.2 1202.4 1366.1 1203.0 1369.1 1203.5 1372.1 1204.0 1375.0 1204.5 1378.0 1204.9 1381.0 1205.3 1384.0 1205.7 1387.0 1206.0 1390.0 1206.3 1393.0 1206.5 1396.0 1206.8 1399.0 1206.9 1402.0 1207.0 1405.0 1207.0 1408.0 1207.0 1411.0 1207.0 1414.0 1207.0 1417.0 1207.0 1420.0 1207.0 L1913.0 1207.0"/>
</g>
<g stroke="#000" stroke-width="7" fill="none">
<rect x="231" y="59" width="1682.7" height="1236.7"/>
<line x1="202" y1="1207.2" x2="231" y2="1207.2"/>
<line x1="202" y1="1030.8" x2="231" y2="1030.8"/>
<line x1="202" y1="854.3" x2="231" y2="854.3"/>
<line x1="202" y1="677.9" x2="231" y2="677.9"/>
<line x1="202" y1="501.4" x2="231" y2="501.4"/>
<line x1="202" y1="325.0" x2="231" y2="325.0"/>
<line x1="202" y1="148.5" x2="231" y2="148.5"/>
<line x1="216" y1="1295.4" x2="231" y2="1295.4"/>
<line x1="216" y1="1119.0" x2="231" y2="1119.0"/>
<line x1="216" y1="942.5" x2="231" y2="942.5"/>
<line x1="216" y1="766.1" x2="231" y2="766.1"/>
<line x1="216" y1="589.6" x2="231" y2="589.6"/>
<line x1="216" y1="413.2" x2="231" y2="413.2"/>
<line x1="216" y1="236.7" x2="231" y2="236.7"/>
<line x1="216" y1="59.0" x2="231" y2="59.0"/>
<line x1="230.8" y1="1296" x2="230.8" y2="1323"/>
<line x1="460.2" y1="1296" x2="460.2" y2="1323"/>
<line x1="689.6" y1="1296" x2="689.6" y2="1323"/>
<line x1="919.0" y1="1296" x2="919.0" y2="1323"/>
<line x1="1148.4" y1="1296" x2="1148.4" y2="1323"/>
<line x1="1377.8" y1="1296" x2="1377.8" y2="1323"/>
<line x1="1607.3" y1="1296" x2="1607.3" y2="1323"/>
<line x1="1836.7" y1="1296" x2="1836.7" y2="1323"/>
<line x1="345.5" y1="1296" x2="345.5" y2="1311"/>
<line x1="574.9" y1="1296" x2="574.9" y2="1311"/>
<line x1="804.3" y1="1296" x2="804.3" y2="1311"/>
<line x1="1033.7" y1="1296" x2="1033.7" y2="1311"/>
<line x1="1263.1" y1="1296" x2="1263.1" y2="1311"/>
<line x1="1492.6" y1="1296" x2="1492.6" y2="1311"/>
<line x1="1722.0" y1="1296" x2="1722.0" y2="1311"/>
</g>
<g fill="none" stroke-width="6.5" stroke-dasharray="20.8 6.54">
<line x1="1129.5" y1="258" x2="1129.5" y2="1301.5" stroke="#00a870"/>
<line x1="1148" y1="258" x2="1148" y2="1301.5" stroke="#ff0000"/>
<line x1="1223" y1="258" x2="1223" y2="1301.5" stroke="#006adb"/>
<line x1="1277.5" y1="261" x2="1277.5" y2="1301.5" stroke="#000"/>
</g>
<line x1="1277.5" y1="1292" x2="1277.5" y2="1301.5" stroke="#000" stroke-width="6.5"/>
<g font-family="Liberation Serif, serif" font-size="61" fill="#000">
<text x="189" y="1222.2" text-anchor="end">0</text>
<text x="189" y="1045.8" text-anchor="end">10</text>
<text x="189" y="869.3" text-anchor="end">20</text>
<text x="189" y="692.9" text-anchor="end">30</text>
<text x="189" y="516.4" text-anchor="end">40</text>
<text x="189" y="340.0" text-anchor="end">50</text>
<text x="189" y="163.5" text-anchor="end">60</text>
<text x="230.8" y="1381" text-anchor="middle">0</text>
<text x="460.2" y="1381" text-anchor="middle">3</text>
<text x="689.6" y="1381" text-anchor="middle">6</text>
<text x="919.0" y="1381" text-anchor="middle">9</text>
<text x="1148.4" y="1381" text-anchor="middle">12</text>
<text x="1377.8" y="1381" text-anchor="middle">15</text>
<text x="1607.3" y="1381" text-anchor="middle">18</text>
<text x="1836.7" y="1381" text-anchor="middle">21</text>
</g>
<text x="1073" y="1445" text-anchor="middle" font-family="Liberation Serif, serif" font-weight="bold" font-size="60.3">Z-distance (Angstrom)</text>
<text transform="translate(92 716) rotate(-90)" text-anchor="middle" font-family="Liberation Serif, serif" font-weight="bold" font-size="61">Relative concentration</text>
<g stroke-width="10" stroke-linecap="butt">
<line x1="355.5" y1="124.3" x2="497.5" y2="124.3" stroke="#000"/>
<line x1="355.5" y1="205" x2="497.5" y2="205" stroke="#ff0000"/>
<line x1="1090" y1="122.5" x2="1234" y2="122.5" stroke="#0000ff"/>
<line x1="1095.5" y1="205" x2="1239.5" y2="205" stroke="#008080"/>
</g>
<g font-family="Liberation Serif, serif" font-weight="bold" font-size="66" fill="#000">
<text x="509" y="144.5">001 surface of Mnt</text>
<text x="509" y="223.5">010 edge of Mnt</text>
<text x="1245" y="144.5">001 surface of Kln</text>
<text x="1251" y="223.5">010 edge of Kln</text>
</g>
<g fill="#fff">
<rect x="1316.3" y="275.2" width="348.6" height="46.2"/>
<rect x="1355.2" y="353.7" width="347.7" height="44.3"/>
<rect x="731.5" y="474.3" width="347.5" height="44.8"/>
<rect x="731.8" y="560.5" width="351.7" height="44.6"/>
</g>
<defs>
<clipPath id="bc0"><rect x="1316.3" y="275.2" width="348.6" height="46.2"/></clipPath>
<clipPath id="bc1"><rect x="1355.2" y="353.7" width="347.7" height="44.3"/></clipPath>
<clipPath id="bc2"><rect x="731.5" y="474.3" width="347.5" height="44.8"/></clipPath>
<clipPath id="bc3"><rect x="731.8" y="560.5" width="351.7" height="44.6"/></clipPath>
</defs>
<g font-family="Liberation Serif, serif" font-size="45">
<text x="1347" y="312" fill="#006adb" clip-path="url(#bc0)">Kln 001 surface</text>
<text x="1382" y="388.5" fill="#000" clip-path="url(#bc1)">Mnt 001 surface</text>
<text x="780" y="512" fill="#ff0000" clip-path="url(#bc2)">Mnt 010 edge</text>
<text x="786" y="599.5" fill="#00a870" clip-path="url(#bc3)">Kln 010 edge</text>
</g>
<g fill="none" stroke-width="7">
<rect x="1316.3" y="275.2" width="348.6" height="46.2" stroke="#006adb"/>
<rect x="1355.2" y="353.7" width="347.7" height="44.3" stroke="#000"/>
<rect x="731.5" y="474.3" width="347.5" height="44.8" stroke="#ff0000"/>
<rect x="731.8" y="560.5" width="351.7" height="44.6" stroke="#00a870"/>
</g>
<g stroke-width="2.5" fill="none">
<line x1="1222" y1="328.5" x2="1313" y2="299.5" stroke="#4a9ae8"/>
<line x1="1277.5" y1="414" x2="1352" y2="393" stroke="#000"/>
<line x1="1077.5" y1="494" x2="1149" y2="433" stroke="#ff8060"/>
<line x1="1085.5" y1="581" x2="1126" y2="554" stroke="#00b080"/>
</g>
</svg>
</body></html>
